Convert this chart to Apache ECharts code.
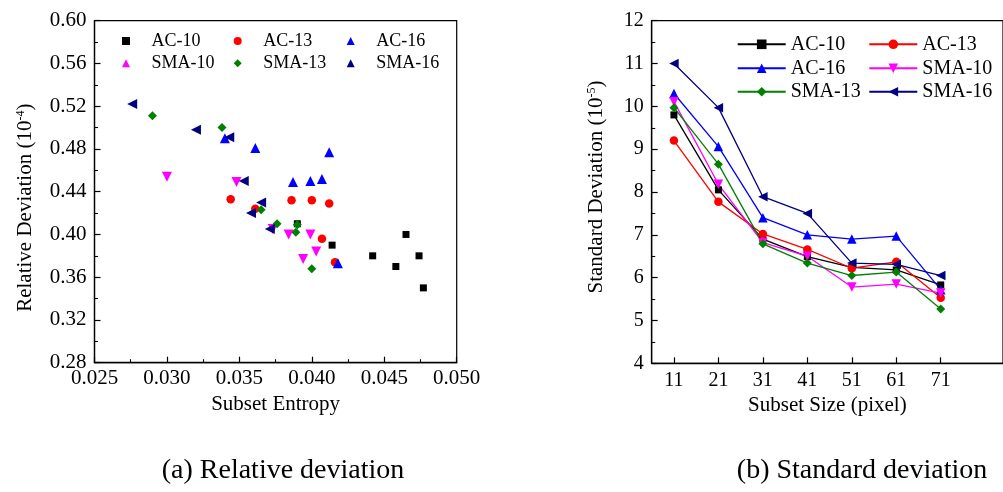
<!DOCTYPE html>
<html>
<head>
<meta charset="utf-8">
<script src="https://cdn.jsdelivr.net/npm/echarts@6/dist/echarts.min.js"></script>
<style>
html,body{margin:0;padding:0;background:#fff;}
#c{width:1003px;height:492px;}
</style>
</head>
<body>
<div id="c"></div>
<script>
// ---------- data: (a) Relative deviation vs subset entropy ----------
const seriesNames = ['AC-10', 'AC-13', 'AC-16', 'SMA-10', 'SMA-13', 'SMA-16'];
const entropyAC10  = [0.0390, 0.0414, 0.0442, 0.0458, 0.0465, 0.0474, 0.0477];
const devAC10      = [0.410, 0.390, 0.380, 0.370, 0.400, 0.380, 0.350];
const entropyAC13  = [0.0344, 0.0361, 0.0386, 0.0400, 0.0407, 0.0412, 0.0416];
const devAC13      = [0.433, 0.424, 0.432, 0.432, 0.396, 0.429, 0.374];
const entropyAC16  = [0.0340, 0.0361, 0.0412, 0.0387, 0.0399, 0.0407, 0.0418];
const devAC16      = [0.490, 0.481, 0.477, 0.449, 0.450, 0.452, 0.373];
const entropySMA10 = [0.0300, 0.0348, 0.0373, 0.0384, 0.0399, 0.0403, 0.0394];
const devSMA10     = [0.454, 0.449, 0.405, 0.400, 0.400, 0.384, 0.377];
const entropySMA13 = [0.0290, 0.0338, 0.0365, 0.0376, 0.0390, 0.0389, 0.0400];
const devSMA13     = [0.511, 0.500, 0.423, 0.410, 0.409, 0.402, 0.368];
const entropySMA16 = [0.0276, 0.0320, 0.0343, 0.0353, 0.0365, 0.0358, 0.0371];
const devSMA16     = [0.522, 0.498, 0.491, 0.450, 0.430, 0.420, 0.405];

// ---------- data: (b) Standard deviation vs subset size ----------
const subsetSizes = [11, 21, 31, 41, 51, 61, 71];
const stdAC10  = [9.80, 8.05, 6.90, 6.49, 6.24, 6.18, 5.83];
const stdAC13  = [9.20, 7.77, 7.02, 6.66, 6.22, 6.37, 5.53];
const stdAC16  = [10.30, 9.06, 7.40, 7.00, 6.90, 6.97, 5.72];
const stdSMA10 = [10.11, 8.18, 6.82, 6.50, 5.78, 5.85, 5.64];
const stdSMA13 = [9.97, 8.65, 6.79, 6.34, 6.05, 6.13, 5.27];
const stdSMA16 = [11.00, 9.97, 7.89, 7.50, 6.34, 6.31, 6.05];

const captions = ['(a) Relative deviation', '(b) Standard deviation'];

// ---------- styles ----------
const FONT = '"Liberation Serif", "Times New Roman", serif';
const colors  = ['#000000', '#ff0000', '#0000ff', '#ff00ff', '#008000', '#000080'];
const symbols = ['rect', 'circle', 'triangle', 'triangle', 'diamond', 'triangle'];
const rotates = [0, 0, 0, 180, 0, 90];
const scatterSizes = [7, 8.5, 10, 10, 9, 10];
const lineSizes = [7, 8.5, 9.5, 9.5, 9, 9.5];

const entropies = [entropyAC10, entropyAC13, entropyAC16, entropySMA10, entropySMA13, entropySMA16];
const devs = [devAC10, devAC13, devAC16, devSMA10, devSMA13, devSMA16];
const stds = [stdAC10, stdAC13, stdAC16, stdSMA10, stdSMA13, stdSMA16];

const zip = (a, b) => a.map((v, i) => [v, b[i]]);

const series = [];
seriesNames.forEach((n, i) => {
  series.push({
    type: 'scatter', name: n, xAxisIndex: 0, yAxisIndex: 0,
    data: zip(entropies[i], devs[i]),
    symbol: symbols[i], symbolRotate: rotates[i], symbolSize: scatterSizes[i],
    itemStyle: { color: colors[i], opacity: 1 }, z: 3
  });
});
seriesNames.forEach((n, i) => {
  series.push({
    type: 'line', name: 'b:' + n, xAxisIndex: 1, yAxisIndex: 1,
    data: zip(subsetSizes, stds[i]),
    symbol: symbols[i], symbolRotate: rotates[i], symbolSize: lineSizes[i],
    showAllSymbol: true,
    itemStyle: { color: colors[i], opacity: 1 },
    lineStyle: { color: colors[i], width: 1.3 },
    z: 3
  });
});

// legends
const legends = [];
const lCols = [126, 237.7, 350.7], lRows = [41, 63.3];
seriesNames.forEach((n, i) => {
  const cx = lCols[i % 3], cy = lRows[Math.floor(i / 3)];
  legends.push({
    data: [n], left: cx - 4, top: cy - 9, itemWidth: 8, itemHeight: 8, padding: 0,
    itemGap: 0, selectedMode: false,
    textStyle: { fontFamily: FONT, fontSize: 18, color: '#000', lineHeight: 18, padding: [0, 0, 0, 16.5] }
  });
});
const rCols = [736.7, 868.3], rRows = [44.3, 68.3, 91.7];
seriesNames.forEach((n, i) => {
  const lx = rCols[i % 2], cy = rRows[Math.floor(i / 2)];
  legends.push({
    data: ['b:' + n], left: lx, top: cy - 10, itemWidth: 48, itemHeight: 12, padding: 0,
    itemGap: 0, selectedMode: false,
    formatter: name => name.replace(/^b:/, ''),
    textStyle: { fontFamily: FONT, fontSize: 20, color: '#000', lineHeight: 20 }
  });
});

const axisLine = { show: true, lineStyle: { color: '#000', width: 1.3 } };
const tickStyle = { show: true, inside: true, length: 6, lineStyle: { color: '#000', width: 1.2 } };
const minorStyle = { show: true, splitNumber: 2, length: 3.5, lineStyle: { color: '#000', width: 1.1 } };
const labelBase = { color: '#000', fontFamily: FONT, fontSize: 20 };
const labelLeft = { color: '#000', fontFamily: FONT, fontSize: 21 };

const option = {
  backgroundColor: '#fff',
  animation: false,
  grid: [
    { left: 94.5, top: 20.7, width: 362.2, height: 342, show: true, borderColor: '#000', borderWidth: 1.2, backgroundColor: 'transparent', containLabel: false },
    { left: 651.7, top: 20.7, width: 379.6, height: 342.6, show: true, borderColor: '#000', borderWidth: 1.2, backgroundColor: 'transparent', containLabel: false }
  ],
  xAxis: [
    {
      gridIndex: 0, type: 'value', min: 0.025, max: 0.050, interval: 0.005,
      axisLine, axisTick: tickStyle, minorTick: minorStyle, splitLine: { show: false },
      axisLabel: Object.assign({}, labelLeft, { margin: 5, formatter: v => v.toFixed(3) }),
      name: 'Subset Entropy', nameLocation: 'middle', nameGap: 30,
      nameTextStyle: { fontFamily: FONT, fontSize: 21, color: '#000' }
    },
    {
      gridIndex: 1, type: 'value', min: 6, max: 85,
      axisLine,
      axisTick: Object.assign({}, tickStyle, { customValues: subsetSizes }),
      splitLine: { show: false },
      axisLabel: Object.assign({}, labelBase, { margin: 7, customValues: subsetSizes }),
      name: 'Subset Size (pixel)', nameLocation: 'middle', nameGap: 30,
      nameTextStyle: { fontFamily: FONT, fontSize: 21, color: '#000' }
    }
  ],
  yAxis: [
    {
      gridIndex: 0, type: 'value', min: 0.28, max: 0.60, interval: 0.04,
      axisLine, axisTick: tickStyle, minorTick: minorStyle, splitLine: { show: false },
      axisLabel: Object.assign({}, labelLeft, { margin: 8, formatter: v => v.toFixed(2) }),
      name: 'Relative Deviation (10{sup|-4})', nameLocation: 'middle', nameGap: 58, nameRotate: 90,
      nameTextStyle: {
        fontFamily: FONT, fontSize: 21, color: '#000', padding: [0, 32, 0, 0],
        rich: { sup: { fontFamily: FONT, fontSize: 12, color: '#000', padding: [0, 0, 10, 0] } }
      }
    },
    {
      gridIndex: 1, type: 'value', min: 4, max: 12, interval: 1,
      axisLine, axisTick: tickStyle, minorTick: minorStyle, splitLine: { show: false },
      axisLabel: Object.assign({}, labelBase, { margin: 8 }),
      name: 'Standard Deviation (10{sup|-5})', nameLocation: 'middle', nameGap: 44, nameRotate: 90,
      nameTextStyle: {
        fontFamily: FONT, fontSize: 21, color: '#000', padding: [0, 0, 0, 10],
        rich: { sup: { fontFamily: FONT, fontSize: 12, color: '#000', padding: [0, 0, 10, 0] } }
      }
    }
  ],
  legend: legends,
  graphic: [
    { type: 'text', x: 283, y: 471, style: { text: captions[0], fontFamily: FONT, fontSize: 28, fill: '#000', align: 'center', verticalAlign: 'middle' } },
    { type: 'text', x: 862, y: 471, style: { text: captions[1], fontFamily: FONT, fontSize: 28, fill: '#000', align: 'center', verticalAlign: 'middle' } }
  ],
  series
};

const chart = echarts.init(document.getElementById('c'), null, { renderer: 'canvas' });
chart.setOption(option);
</script>
</body>
</html>
